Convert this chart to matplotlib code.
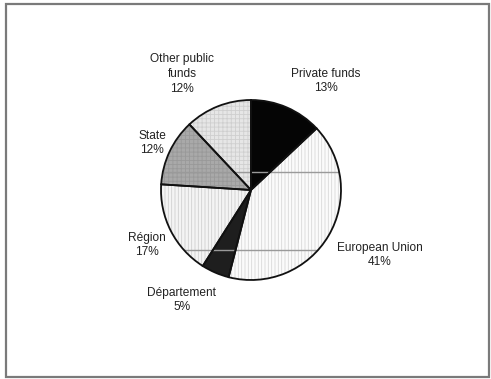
import matplotlib
matplotlib.use("Agg")
import matplotlib.pyplot as plt
from matplotlib.patches import Rectangle, Circle

# ---- data ----
categories = ["Private funds", "European Union", "Département", "Région", "State", "Other public\nfunds"]
shares = [13, 41, 5, 17, 12, 12]

# ---- style / layout ----
face_colors = ["#050505", "#fbfbfb", "#1e1e1e", "#f4f4f4", "#a9a9a9", "#e6e6e6"]
hatches = ["", "|||||", "", "|||||", "++++", "++++"]
hatch_colors = ["#050505", "#d8d8d8", "#1e1e1e", "#d0d0d0", "#999999", "#cfcfcf"]
label_pos = [(326, 81), (380, 255), (182, 300), (147, 245), (152, 143), (182, 74)]
W, H = 491, 379
center = (251, H - 190)
radius = 90
grid_y = [172, 250]

plt.rcParams["font.family"] = ["Liberation Sans", "DejaVu Sans"]
plt.rcParams["hatch.linewidth"] = 0.6

fig = plt.figure(figsize=(W / 100, H / 100), dpi=100)
ax = fig.add_axes([0, 0, 1, 1])

# hatched fills
wedges, _ = ax.pie(shares, colors=face_colors, startangle=90, counterclock=False,
                   center=center, radius=radius, frame=True,
                   wedgeprops=dict(linewidth=0))
for w, h, hc in zip(wedges, hatches, hatch_colors):
    if h:
        w.set_hatch(h)
        w.set_edgecolor(hc)
        w.set_linewidth(0)

# gridlines showing through pie
clip = Circle(center, radius, transform=ax.transData)
for gy in grid_y:
    ln, = ax.plot([center[0] - radius, center[0] + radius], [H - gy, H - gy],
                  color="#9a9a9a", lw=1.0, zorder=3)
    ln.set_clip_path(clip)

# outlines
wedges2, _ = ax.pie(shares, colors=["none"] * len(shares), startangle=90, counterclock=False,
                    center=center, radius=radius, frame=True,
                    wedgeprops=dict(linewidth=1.3, edgecolor="#111111", fill=False))
for w in wedges2:
    w.set_zorder(4)

for cat, s, (x, y) in zip(categories, shares, label_pos):
    ax.text(x, H - y, f"{cat}\n{s}%", ha="center", va="center", fontsize=8.6,
            color="#222222", linespacing=1.3)

ax.set_xlim(0, W)
ax.set_ylim(0, H)
ax.set_aspect("equal")
ax.axis("off")

# outer frame
fig.patches.append(Rectangle((6, 2), W - 8, H - 6, transform=None, fill=False,
                             edgecolor="#7a7a7a", lw=1.6))

fig.savefig("out.png", dpi=100)
